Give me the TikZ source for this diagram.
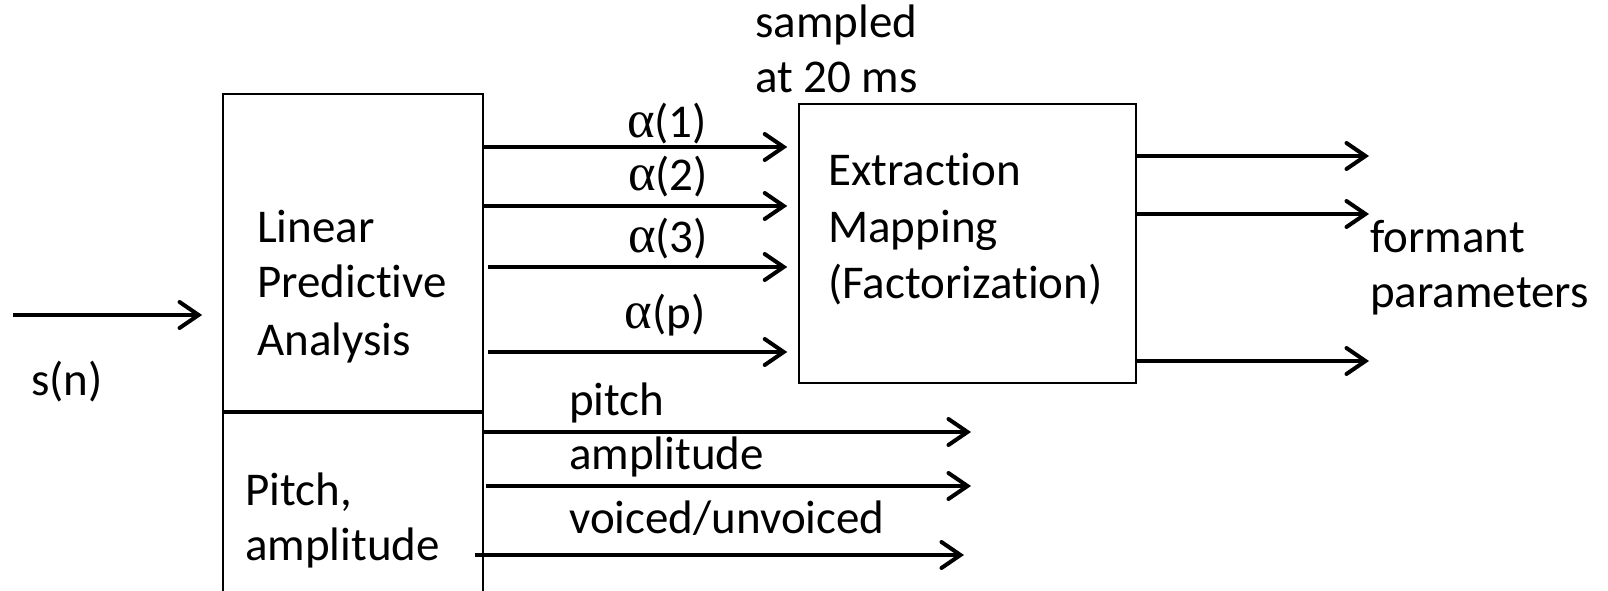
\documentclass[tikz,border=0pt]{standalone}
\usepackage{fontspec}
\setmainfont[Ligatures=NoCommon]{Carlito}
\newfontfamily\greekfont[Scale=1.12]{Liberation Serif}
\usetikzlibrary{arrows.meta}
\begin{document}
\begin{tikzpicture}[x=1pt,y=-1pt,
  every node/.style={font=\fontsize{47}{56}\selectfont, inner sep=0pt},
  lbl/.style={anchor=base west},
  clbl/.style={anchor=base},
  block/.style={draw, line width=1.8pt, inner sep=0pt},
  arr/.style={line width=4pt, -{Straight Barb[length=19pt,width=26pt,line cap=round]}}]
\useasboundingbox (0,0) rectangle (1608,591);

% blocks
\node[block, minimum width=260pt, minimum height=526pt] (lpa) at (353,357) {};
\node[block, line width=1.5pt, minimum width=337pt, minimum height=279pt] (ext) at (967.5,243.5) {};
\coordinate (div) at (0,412);
\draw[line width=4pt] (lpa.west |- div) -- (lpa.east |- div);

% block texts
\node[lbl] (t1) at (257,242) {Linear};
\node[lbl] (t2) at (257,297) {Predictive};
\node[lbl] (t3) at (257,355) {Analysis};
\node[lbl] (t4) at (245,505) {Pitch,};
\node[lbl] (t5) at (245,560) {amplitude};
\node[lbl] (e1) at (828,185) {Extraction};
\node[lbl] (e2) at (828,242) {Mapping};
\node[lbl] (e3) at (828,298) {(Factorization)};

% input
\coordinate (src) at (13,315);
\draw[arr, shorten >=20pt] (src) -- (lpa.west |- src);
\node[lbl] (sn) at (31,395) {s(n)};

% coefficient lines
\coordinate (c1) at (0,147);
\coordinate (c2) at (0,206);
\coordinate (c3) at (0,267);
\coordinate (cp) at (0,352);
\draw[arr, shorten >=11pt] (lpa.east |- c1) -- (ext.west |- c1);
\draw[arr, shorten >=11pt] (lpa.east |- c2) -- (ext.west |- c2);
\draw[arr, shorten >=11pt, shorten <=4pt] (lpa.east |- c3) -- (ext.west |- c3);
\draw[arr, shorten >=11pt, shorten <=4pt] (lpa.east |- cp) -- (ext.west |- cp);
\node[clbl] (l1) at (667,137) {{\greekfont α}(1)};
\node[clbl] (l2) at (668,190) {{\greekfont α}(2)};
\node[clbl] (l3) at (668,252) {{\greekfont α}(3)};
\node[clbl] (lp) at (665,328) {{\greekfont α}(p)};
\node[lbl] (s1) at (755,38) {sampled};
\node[lbl] (s2) at (755,93) {at 20 ms};

% formant outputs
\coordinate (f1) at (1369,156);
\coordinate (f2) at (1369,214);
\coordinate (f3) at (1369,361);
\draw[arr] (ext.east |- f1) -- (f1);
\draw[arr] (ext.east |- f2) -- (f2);
\draw[arr] (ext.east |- f3) -- (f3);
\node[lbl] (fo1) at (1370,252) {formant};
\node[lbl] (fo2) at (1370,307) {parameters};

% excitation outputs
\coordinate (p1) at (971,432);
\coordinate (p2) at (971,486);
\coordinate (p3) at (964,555);
\draw[arr] (lpa.east |- p1) -- (p1);
\draw[arr, shorten <=2pt] (lpa.east |- p2) -- (p2);
\draw[arr, shorten <=-9pt] (lpa.east |- p3) -- (p3);
\node[lbl] (x1) at (569,415) {pitch};
\node[lbl] (x2) at (569,469) {amplitude};
\node[lbl] (x3) at (569,533) {voiced/unvoiced};
\end{tikzpicture}
\end{document}
